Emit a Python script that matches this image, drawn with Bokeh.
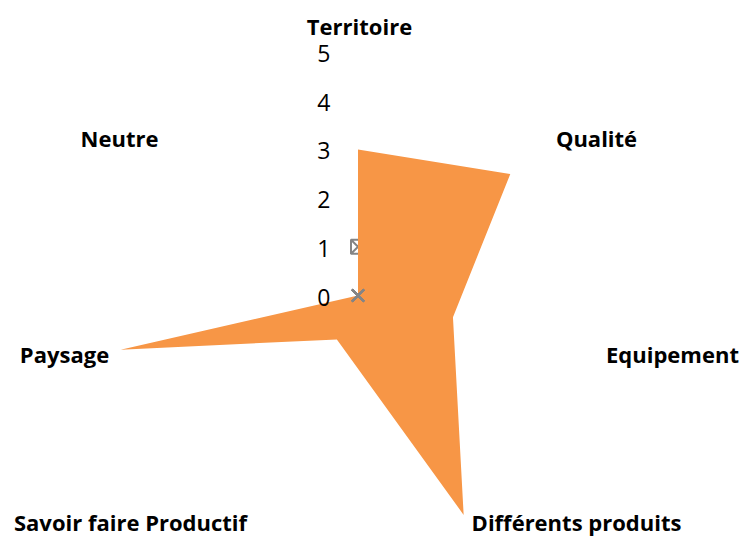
import numpy as np
from bokeh.plotting import figure
from bokeh.models import Range1d
from bokeh.core.properties import value
from bokeh.embed import file_html
from bokeh.resources import INLINE

# ---- data ----
categories = ["Territoire", "Qualité", "Equipement", "Différents produits",
              "Savoir faire Productif", "Paysage", "Neutre"]
scores = [3, 4, 2, 5, 1, 5, 0]          # filled series (orange)
series_square = [1]                      # only first category shown (square marker)
series_cross = [0, 0, 0, 0, 0, 0, 0]     # all zero (x marker)
tick_values = [0, 1, 2, 3, 4, 5]
tick_labels = ["0", "1", "2", "3", "4", "5"]

# ---- layout ----
UNIT = 48.7   # pixels per score unit
# label anchor offsets (pixels from centre), placed like the original
label_offsets = [(1.5, 270), (238.5, 158), (314.5, -58), (218.5, -226),
                 (-227.5, -226), (-293.5, -58), (-238.5, 158)]

n = len(categories)
angles = np.pi / 2 - np.arange(n) * 2 * np.pi / n


def polar(vals, idx=None):
    idx = range(len(vals)) if idx is None else idx
    r = np.array(vals, dtype=float) * UNIT
    a = angles[list(idx)]
    return list(r * np.cos(a)), list(r * np.sin(a))


p = figure(width=742, height=537, output_backend="svg", toolbar_location=None,
           x_range=Range1d(-357.5, 384.5), y_range=Range1d(-242, 295),
           x_axis_type=None, y_axis_type=None, min_border=0)
p.grid.visible = False
p.outline_line_color = None
p.background_fill_color = "white"

grey = "#858585"

# square marker series (behind the fill)
sx, sy = polar(series_square, idx=[0])
p.scatter(sx, sy, marker="square_x", size=14, fill_color=None,
          line_color=grey, line_width=2)

# filled series
xs, ys = polar(scores)
p.patch(xs, ys, fill_color="#F79646", line_color=None)

# cross marker series
cx, cy = polar(series_cross)
p.scatter(cx, cy, marker="x", size=17, line_color=grey, line_width=2)

# value tick labels
p.text(x=[-27.5] * len(tick_values), y=[v * UNIT - 1.5 for v in tick_values],
       text=tick_labels, text_align="right", text_baseline="middle",
       text_font=value("Open Sans"), text_font_size="23px", text_color="#000000")

# category labels
p.text(x=[o[0] for o in label_offsets], y=[o[1] for o in label_offsets],
       text=categories, text_align="center", text_baseline="middle",
       text_font=value("Open Sans"), text_font_style="bold",
       text_font_size="22px", text_color="#000000")

open("out.html", "w").write(file_html(p, INLINE))
